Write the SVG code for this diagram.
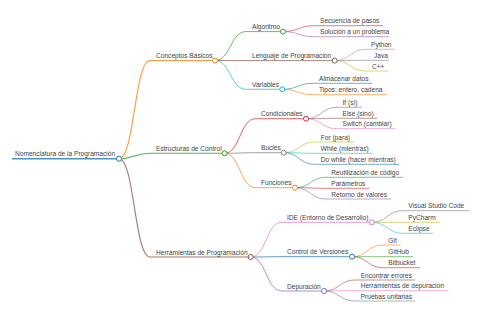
<svg xmlns="http://www.w3.org/2000/svg" width="480" height="320" viewBox="0 0 480 320">
<style>
text{font-family:"Liberation Sans",Arial,sans-serif;font-size:6.6px;fill:#444}
path{fill:none;stroke-opacity:0.8}
.d0{stroke-width:1.5}
.d1{stroke-width:1.1}
.d2{stroke-width:0.9}
.d3{stroke-width:0.75}
circle{fill:#fff;stroke-width:1}
.c0{stroke:#1f77b4}.c1{stroke:#ff7f0e}.c2{stroke:#2ca02c}.c3{stroke:#d62728}.c4{stroke:#9467bd}
.c5{stroke:#8c564b}.c6{stroke:#e377c2}.c7{stroke:#7f7f7f}.c8{stroke:#bcbd22}.c9{stroke:#17becf}
</style>
<rect width="480" height="320" fill="#fff"/>
<g id="connectors">
<path class="d1 c1" d="M119,158.7 C134.5,158.7 134.5,60.5 150,60.5"/>
<path class="d1 c2" d="M119,158.7 C134.5,158.7 134.5,153.3 150,153.3"/>
<path class="d1 c5" d="M119,158.7 C134.5,158.7 134.5,257 150,257"/>
<path class="d2 c2" d="M215,60.5 C230.5,60.5 230.5,31.6 246,31.6"/>
<path class="d2 c5" d="M215,60.5 C230.5,60.5 230.5,60.6 246,60.6"/>
<path class="d2 c9" d="M215,60.5 C230.5,60.5 230.5,89.3 246,89.3"/>
<path class="d2 c3" d="M224.5,153.3 C240,153.3 240,118.7 255.5,118.7"/>
<path class="d2 c7" d="M224.5,153.3 C240,153.3 240,152.7 255.5,152.7"/>
<path class="d2 c1" d="M224.5,153.3 C240,153.3 240,187.7 255.5,187.7"/>
<path class="d2 c6" d="M250.7,257 C266.2,257 266.2,222.3 281.7,222.3"/>
<path class="d2 c0" d="M250.7,257 C266.2,257 266.2,256.7 281.7,256.7"/>
<path class="d2 c4" d="M250.7,257 C266.2,257 266.2,291 281.7,291"/>
<path class="d3 c3" d="M283,31.6 C298.5,31.6 298.5,25.7 314,25.7"/>
<path class="d3 c4" d="M283,31.6 C298.5,31.6 298.5,36.7 314,36.7"/>
<path class="d3 c6" d="M334.7,60.6 C350.3,60.6 350.3,49.3 366,49.3"/>
<path class="d3 c7" d="M334.7,60.6 C350.3,60.6 350.3,60.3 366,60.3"/>
<path class="d3 c8" d="M334.7,60.6 C350.3,60.6 350.3,71 366,71"/>
<path class="d3 c0" d="M282.3,89.3 C297.8,89.3 297.8,83.3 313.3,83.3"/>
<path class="d3 c1" d="M282.3,89.3 C297.8,89.3 297.8,94.7 313.3,94.7"/>
<path class="d3 c4" d="M306,118.7 C321.5,118.7 321.5,107.3 337,107.3"/>
<path class="d3 c5" d="M306,118.7 C321.5,118.7 321.5,118.3 337,118.3"/>
<path class="d3 c6" d="M306,118.7 C321.5,118.7 321.5,128.7 337,128.7"/>
<path class="d3 c8" d="M283.7,152.7 C299.2,152.7 299.2,142 314.7,142"/>
<path class="d3 c9" d="M283.7,152.7 C299.2,152.7 299.2,153.3 314.7,153.3"/>
<path class="d3 c0" d="M283.7,152.7 C299.2,152.7 299.2,164.3 314.7,164.3"/>
<path class="d3 c2" d="M295,187.7 C310.5,187.7 310.5,177.3 326,177.3"/>
<path class="d3 c3" d="M295,187.7 C310.5,187.7 310.5,188.3 326,188.3"/>
<path class="d3 c4" d="M295,187.7 C310.5,187.7 310.5,199 326,199"/>
<path class="d3 c7" d="M371.7,222.3 C387.2,222.3 387.2,210.7 402.7,210.7"/>
<path class="d3 c8" d="M371.7,222.3 C387.2,222.3 387.2,222.3 402.7,222.3"/>
<path class="d3 c9" d="M371.7,222.3 C387.2,222.3 387.2,233.3 402.7,233.3"/>
<path class="d3 c1" d="M352,256.7 C367.5,256.7 367.5,245 383,245"/>
<path class="d3 c2" d="M352,256.7 C367.5,256.7 367.5,256.7 383,256.7"/>
<path class="d3 c3" d="M352,256.7 C367.5,256.7 367.5,267.7 383,267.7"/>
<path class="d3 c5" d="M324,291 C339.5,291 339.5,280 355,280"/>
<path class="d3 c6" d="M324,291 C339.5,291 339.5,290.7 355,290.7"/>
<path class="d3 c7" d="M324,291 C339.5,291 339.5,301 355,301"/>
</g>
<g id="root"><path class="d0 c0" d="M12,158.7H119"/><circle class="c0" cx="119" cy="158.7" r="2.6"/><text x="15" y="156.4">Nomenclatura de la Programación</text></g>
<g id="conceptos"><path class="d1 c1" d="M150,60.5H215"/><circle class="c1" cx="215" cy="60.5" r="2.5"/><text x="156" y="58.2">Conceptos Básicos</text></g>
<g id="estructuras"><path class="d1 c2" d="M150,153.3H224.5"/><circle class="c2" cx="224.5" cy="153.3" r="2.5"/><text x="156" y="151">Estructuras de Control</text></g>
<g id="herramientas"><path class="d1 c5" d="M150,257H250.7"/><circle class="c5" cx="250.7" cy="257" r="2.5"/><text x="156" y="254.7">Herramientas de Programación</text></g>
<g id="algoritmo"><path class="d2 c2" d="M246,31.6H283"/><circle class="c2" cx="283" cy="31.6" r="2.5"/><text x="252" y="29.3">Algoritmo</text></g>
<g id="lenguaje"><path class="d2 c5" d="M246,60.6H334.7"/><circle class="c5" cx="334.7" cy="60.6" r="2.5"/><text x="252" y="58.3">Lenguaje de Programación</text></g>
<g id="variables"><path class="d2 c9" d="M246,89.3H282.3"/><circle class="c9" cx="282.3" cy="89.3" r="2.5"/><text x="252" y="87">Variables</text></g>
<g id="condicionales"><path class="d2 c3" d="M255.5,118.7H306"/><circle class="c3" cx="306" cy="118.7" r="2.5"/><text x="261" y="116.4">Condicionales</text></g>
<g id="bucles"><path class="d2 c7" d="M255.5,152.7H283.7"/><circle class="c7" cx="283.7" cy="152.7" r="2.5"/><text x="261" y="150.4">Bucles</text></g>
<g id="funciones"><path class="d2 c1" d="M255.5,187.7H295"/><circle class="c1" cx="295" cy="187.7" r="2.5"/><text x="261" y="185.4">Funciones</text></g>
<g id="ide"><path class="d2 c6" d="M281.7,222.3H371.7"/><circle class="c6" cx="371.7" cy="222.3" r="2.5"/><text x="287" y="220">IDE (Entorno de Desarrollo)</text></g>
<g id="control"><path class="d2 c0" d="M281.7,256.7H352"/><circle class="c0" cx="352" cy="256.7" r="2.5"/><text x="287" y="254.4">Control de Versiones</text></g>
<g id="depuracion"><path class="d2 c4" d="M281.7,291H324"/><circle class="c4" cx="324" cy="291" r="2.5"/><text x="287" y="288.7">Depuración</text></g>
<g id="secuencia"><path class="d3 c3" d="M314,25.7H383"/><text x="320" y="23.4">Secuencia de pasos</text></g>
<g id="solucion"><path class="d3 c4" d="M314,36.7H389"/><text x="320" y="34.4">Solución a un problema</text></g>
<g id="python"><path class="d3 c6" d="M366,49.3H395"/><text x="371" y="47">Python</text></g>
<g id="java"><path class="d3 c7" d="M366,60.3H389"/><text x="374" y="58">Java</text></g>
<g id="cpp"><path class="d3 c8" d="M366,71H388"/><text x="372" y="68.7">C++</text></g>
<g id="almacenar"><path class="d3 c0" d="M313.3,83.3H372"/><text x="319" y="81">Almacenar datos</text></g>
<g id="tipos"><path class="d3 c1" d="M313.3,94.7H387"/><text x="319" y="92.4">Tipos: entero, cadena</text></g>
<g id="if"><path class="d3 c4" d="M337,107.3H361.7"/><text x="342.5" y="105">If (sí)</text></g>
<g id="else"><path class="d3 c5" d="M337,118.3H377"/><text x="342.5" y="116">Else (sino)</text></g>
<g id="switch"><path class="d3 c6" d="M337,128.7H395.7"/><text x="342.5" y="126.4">Switch (cambiar)</text></g>
<g id="for"><path class="d3 c8" d="M314.7,142H354"/><text x="320.7" y="139.7">For (para)</text></g>
<g id="while"><path class="d3 c9" d="M314.7,153.3H372.7"/><text x="320.7" y="151">While (mientras)</text></g>
<g id="dowhile"><path class="d3 c0" d="M314.7,164.3H399.3"/><text x="320.7" y="162">Do while (hacer mientras)</text></g>
<g id="reutilizacion"><path class="d3 c2" d="M326,177.3H403.3"/><text x="331.3" y="175">Reutilización de código</text></g>
<g id="parametros"><path class="d3 c3" d="M326,188.3H369.3"/><text x="331.3" y="186">Parámetros</text></g>
<g id="retorno"><path class="d3 c4" d="M326,199H391"/><text x="331.3" y="196.7">Retorno de valores</text></g>
<g id="vscode"><path class="d3 c7" d="M402.7,210.7H469.3"/><text x="408.3" y="208.4">Visual Studio Code</text></g>
<g id="pycharm"><path class="d3 c8" d="M402.7,222.3H440"/><text x="408.3" y="220">PyCharm</text></g>
<g id="eclipse"><path class="d3 c9" d="M402.7,233.3H433.3"/><text x="408.3" y="231">Eclipse</text></g>
<g id="git"><path class="d3 c1" d="M383,245H400.7"/><text x="388.3" y="242.7">Git</text></g>
<g id="github"><path class="d3 c2" d="M383,256.7H413.3"/><text x="388.3" y="254.4">GitHub</text></g>
<g id="bitbucket"><path class="d3 c3" d="M383,267.7H420"/><text x="388.3" y="265.4">Bitbucket</text></g>
<g id="encontrar"><path class="d3 c5" d="M355,280H415"/><text x="360.7" y="277.7">Encontrar errores</text></g>
<g id="herrdep"><path class="d3 c6" d="M355,290.7H448.3"/><text x="360.7" y="288.4">Herramientas de depuración</text></g>
<g id="pruebas"><path class="d3 c7" d="M355,301H415"/><text x="360.7" y="298.7">Pruebas unitarias</text></g>
</svg>
